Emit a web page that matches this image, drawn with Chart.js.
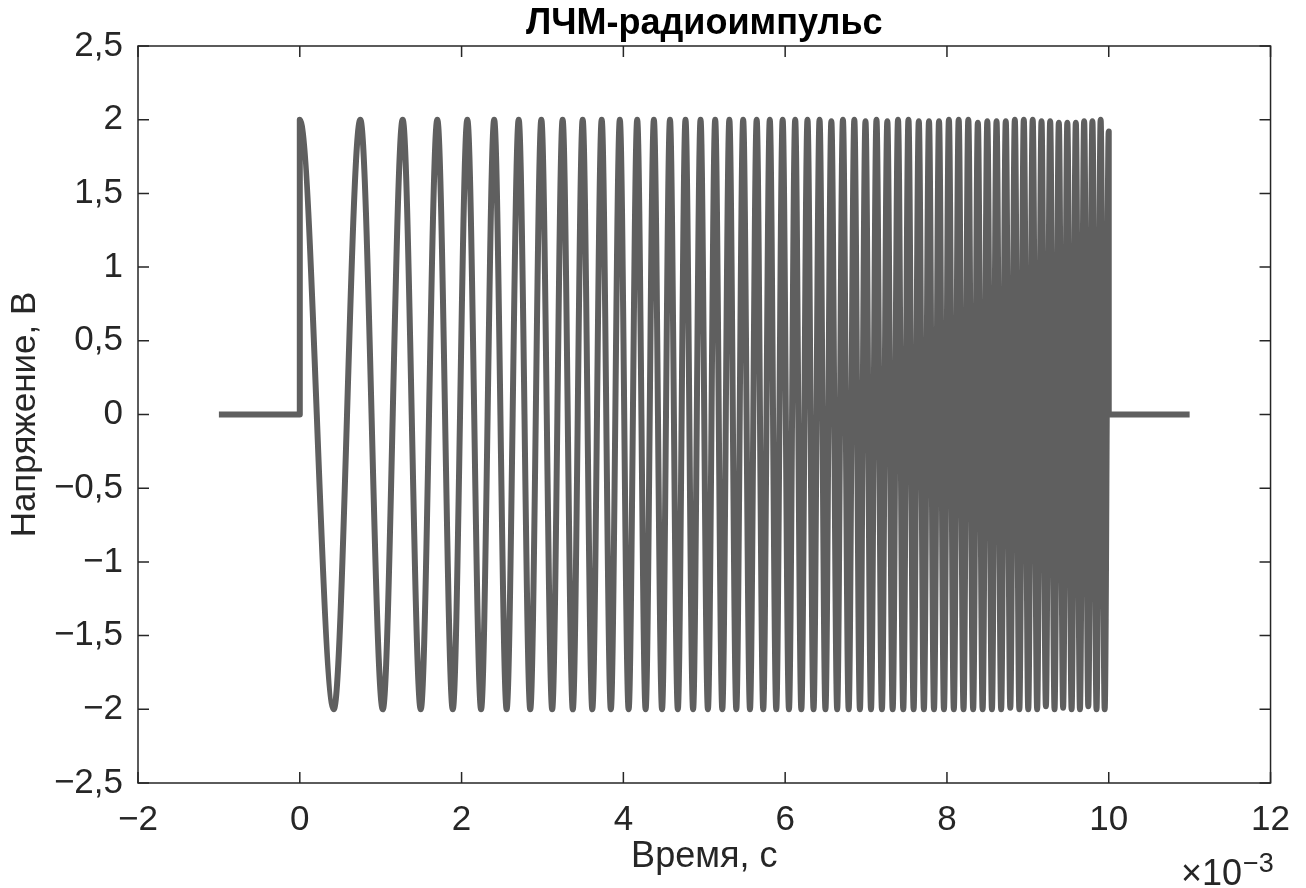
<!DOCTYPE html>
<html>
<head>
<meta charset="utf-8">
<script src="https://cdn.jsdelivr.net/npm/chart.js@4.4.1/dist/chart.umd.min.js"></script>
<style>
  html, body { margin: 0; padding: 0; background: #ffffff; }
  #c { display: block; }
</style>
</head>
<body>
<canvas id="c" width="1306" height="888"></canvas>
<script>
// ---- data (time in ms, i.e. axis units ×10^-3 s) ----
// extrema of the chirp pulse: zero line, rising edge at 0, alternating troughs/peaks, falling edge at 10
const timeMs = [
  -1, 0, 0,
  0.420, 0.748, 1.026, 1.272, 1.495, 1.700, 1.891, 2.071, 2.241, 2.403,
  2.557, 2.706, 2.849, 2.986, 3.120, 3.249, 3.375, 3.497, 3.616, 3.732,
  3.845, 3.956, 4.065, 4.171, 4.275, 4.377, 4.478, 4.576, 4.673, 4.768,
  4.862, 4.954, 5.045, 5.135, 5.223, 5.310, 5.396, 5.481, 5.565, 5.648,
  5.729, 5.810, 5.890, 5.969, 6.047, 6.124, 6.200, 6.276, 6.351, 6.425,
  6.498, 6.571, 6.643, 6.714, 6.785, 6.855, 6.924, 6.993, 7.061, 7.129,
  7.196, 7.263, 7.329, 7.395, 7.460, 7.524, 7.588, 7.652, 7.715, 7.778,
  7.840, 7.902, 7.963, 8.024, 8.085, 8.145, 8.205, 8.264, 8.324, 8.382,
  8.441, 8.499, 8.556, 8.613, 8.670, 8.727, 8.783, 8.839, 8.895, 8.950,
  9.005, 9.060, 9.115, 9.169, 9.223, 9.276, 9.330, 9.383, 9.436, 9.488,
  9.541, 9.593, 9.644, 9.696, 9.747, 9.798, 9.849, 9.900, 9.950, 10.000,
  10, 11
];
const voltage = [
  0, 0, 2,
  -2, 2,   -2, 2,   -2, 2,   -2, 2,   -2, 2,
  -2, 2,   -2, 2,   -2, 2,   -2, 2,   -2, 2,
  -2, 2,   -2, 2,   -2, 2,   -2, 2,   -2, 2,
  -2, 2,   -2, 2,   -2, 2,   -2, 2,   -2, 2,
  -2, 2,   -2, 2,   -2, 2,   -2, 2,   -2, 2,
  -2, 1.99, -2, 2,  -2, 2,   -2, 1.99, -2, 2,
  -2, 1.99, -2, 2,  -2, 2,   -2, 1.99, -2, 1.99,
  -2, 1.99, -2, 2,  -2, 2,   -2, 2,   -2, 1.98,
  -2, 1.99, -2, 1.99, -2, 1.99, -1.99, 2, -2, 2,
  -2, 2,   -2, 1.99, -1.98, 1.99, -2, 1.98, -1.99, 1.98,
  -2, 1.98, -2, 1.99, -1.98, 1.99, -2, 2, -2, 1.92,
  0, 0
];

const xTickValues = [-2, 0, 2, 4, 6, 8, 10, 12];
const xTickLabels = ['\u22122', '0', '2', '4', '6', '8', '10', '12'];
const yTickValues = [-2.5, -2, -1.5, -1, -0.5, 0, 0.5, 1, 1.5, 2, 2.5];
const yTickLabels = ['\u22122,5', '\u22122', '\u22121,5', '\u22121', '\u22120,5', '0', '0,5', '1', '1,5', '2', '2,5'];

const titleText = 'ЛЧМ-радиоимпульс';
const xTitle = 'Время, с';
const yTitle = 'Напряжение, В';
const exponentBase = '\u00d710';
const exponentPower = '\u22123';

// ---- style ----
const FONT = "'Liberation Sans', Arial, Helvetica, sans-serif";
const AXIS_COLOR = '#262626';
const LINE_COLOR = '#5f5f5f';

const points = timeMs.map((t, i) => ({ x: t, y: voltage[i] }));

function labelFor(values, labels, v) {
  const i = values.findIndex(t => Math.abs(t - v) < 1e-9);
  return i >= 0 ? labels[i] : '';
}

const axesBox = {
  id: 'axesBox',
  afterDatasetsDraw(chart) {
    const { ctx, chartArea: a, scales: { x, y } } = chart;
    ctx.save();
    ctx.strokeStyle = AXIS_COLOR;
    ctx.lineWidth = 1.5;
    ctx.strokeRect(a.left, a.top, a.right - a.left, a.bottom - a.top);
    const len = 11;
    ctx.beginPath();
    xTickValues.forEach(v => {
      const px = x.getPixelForValue(v);
      ctx.moveTo(px, a.bottom); ctx.lineTo(px, a.bottom - len);
      ctx.moveTo(px, a.top); ctx.lineTo(px, a.top + len);
    });
    yTickValues.forEach(v => {
      const py = y.getPixelForValue(v);
      ctx.moveTo(a.left, py); ctx.lineTo(a.left + len, py);
      ctx.moveTo(a.right, py); ctx.lineTo(a.right - len, py);
    });
    ctx.stroke();
    // axis exponent "×10^-3"
    ctx.fillStyle = AXIS_COLOR;
    ctx.textBaseline = 'alphabetic';
    ctx.font = '36px ' + FONT;
    ctx.textAlign = 'right';
    const baseRight = 1242;
    ctx.fillText(exponentBase, baseRight, 885);
    ctx.font = '27px ' + FONT;
    ctx.textAlign = 'left';
    ctx.fillText(exponentPower, baseRight + 1, 872);
    ctx.restore();
  }
};

new Chart(document.getElementById('c'), {
  type: 'line',
  data: {
    datasets: [{
      data: points,
      borderColor: LINE_COLOR,
      backgroundColor: LINE_COLOR,
      borderWidth: 6,
      pointRadius: 0,
      pointHoverRadius: 0,
      fill: false,
      cubicInterpolationMode: 'monotone',
      borderJoinStyle: 'round',
      borderCapStyle: 'butt'
    }]
  },
  options: {
    responsive: false,
    animation: false,
    events: [],
    layout: { padding: { left: 0, right: 34, top: 0, bottom: 0 } },
    plugins: {
      legend: { display: false },
      tooltip: { enabled: false },
      title: {
        display: true,
        fullSize: false,
        text: titleText,
        color: '#000000',
        font: { family: FONT, size: 36, weight: 'bold', lineHeight: 1.2 },
        padding: { top: 2.8, bottom: 0 }
      }
    },
    scales: {
      x: {
        type: 'linear',
        min: -2,
        max: 12,
        afterBuildTicks: s => { s.ticks = xTickValues.map(v => ({ value: v })); },
        afterFit: s => { s.height = 105; },
        grid: { display: false, drawTicks: false },
        border: { display: false },
        ticks: {
          color: AXIS_COLOR,
          padding: 16,
          maxRotation: 0,
          autoSkip: false,
          font: { family: FONT, size: 35, lineHeight: 1.2 },
          callback: v => labelFor(xTickValues, xTickLabels, v)
        },
        title: {
          display: true,
          text: xTitle,
          color: AXIS_COLOR,
          font: { family: FONT, size: 36, lineHeight: 1.2 },
          padding: { top: 0, bottom: 9 }
        }
      },
      y: {
        type: 'linear',
        min: -2.5,
        max: 2.5,
        afterBuildTicks: s => { s.ticks = yTickValues.map(v => ({ value: v })); },
        afterFit: s => { s.width = 138; },
        grid: { display: false, drawTicks: false },
        border: { display: false },
        ticks: {
          color: AXIS_COLOR,
          padding: 15,
          autoSkip: false,
          font: { family: FONT, size: 35, lineHeight: 1.2 },
          callback: v => labelFor(yTickValues, yTickLabels, v)
        },
        title: {
          display: true,
          text: yTitle,
          color: AXIS_COLOR,
          font: { family: FONT, size: 35, lineHeight: 1.2 },
          padding: { top: 4, bottom: 0 }
        }
      }
    }
  },
  plugins: [axesBox]
});
</script>
</body>
</html>
